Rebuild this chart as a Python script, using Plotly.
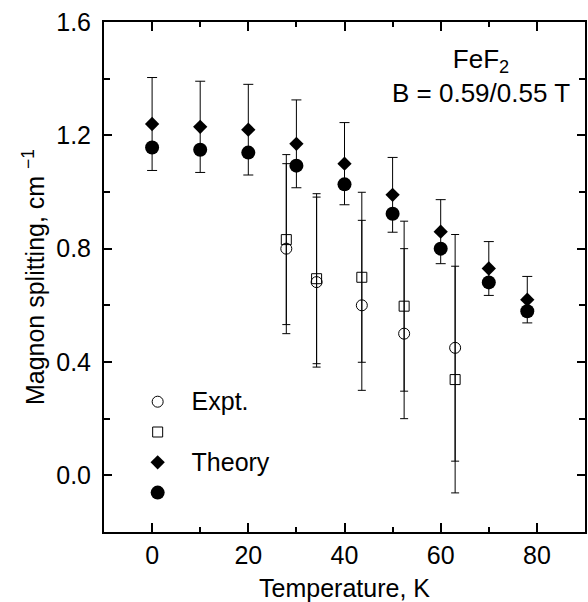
import plotly.graph_objects as go

# Theory (filled) points
T_theory = [0, 10, 20, 30, 40, 50, 60, 70, 78]
theory_diamond = [1.24, 1.23, 1.22, 1.17, 1.10, 0.99, 0.86, 0.73, 0.62]
theory_err = [0.164, 0.161, 0.160, 0.155, 0.145, 0.132, 0.113, 0.095, 0.082]
theory_circle = [1.157, 1.149, 1.139, 1.093, 1.027, 0.923, 0.800, 0.681, 0.579]

# Experimental (open) points
T_expt = [27.9, 34.2, 43.6, 52.4, 63.0]
expt_circle = [0.80, 0.682, 0.60, 0.50, 0.45]
expt_square = [0.832, 0.694, 0.699, 0.597, 0.338]
expt_err = [0.30, 0.30, 0.30, 0.30, 0.40]

legend_names = ["Expt.", "", "Theory", ""]

FONT = "Liberation Sans, Arial, Helvetica, sans-serif"


def lname(s):
    return '<span style="font-size:25px">\u00a0\u00a0' + (s if s else "\u00a0") + "</span>"


fig = go.Figure()

fig.add_trace(go.Scatter(
    x=T_expt, y=expt_circle, mode="markers", name=lname(legend_names[0]),
    marker=dict(symbol="circle-open", size=11, color="black", line=dict(width=1, color="black")),
    error_y=dict(type="data", array=expt_err, visible=True, color="black", thickness=1, width=4),
))
fig.add_trace(go.Scatter(
    x=T_expt, y=expt_square, mode="markers", name=lname(legend_names[1]),
    marker=dict(symbol="square-open", size=10, color="black", line=dict(width=1, color="black")),
    error_y=dict(type="data", array=expt_err, visible=True, color="black", thickness=1, width=4),
))
fig.add_trace(go.Scatter(
    x=T_theory, y=theory_diamond, mode="markers", name=lname(legend_names[2]),
    marker=dict(symbol="diamond", size=11, color="black"),
    error_y=dict(type="data", array=theory_err, visible=True, color="black", thickness=1, width=5),
))
fig.add_trace(go.Scatter(
    x=T_theory, y=theory_circle, mode="markers", name=lname(legend_names[3]),
    marker=dict(symbol="circle", size=14, color="black"),
))

fig.add_annotation(
    xref="paper", yref="paper", x=0.783, y=0.96, xanchor="center", yanchor="top",
    text="FeF<sub>2</sub><br>B = 0.59/0.55 T", showarrow=False,
    font=dict(family=FONT, size=26, color="black"), align="center",
)

axis_common = dict(
    showline=True, linecolor="black", linewidth=2, mirror="ticks",
    ticks="inside", tickcolor="black", tickwidth=1.5,
    showgrid=False, zeroline=False,
    tickfont=dict(family=FONT, size=25, color="black"),
)

fig.update_xaxes(
    range=[-10, 90], dtick=20, tick0=0, ticklen=9,
    minor=dict(dtick=10, ticks="inside", ticklen=5, tickcolor="black", tickwidth=1.5, showgrid=False),
    title=dict(text="Temperature, K", font=dict(family=FONT, size=25, color="black"), standoff=12),
    **axis_common,
)
fig.update_yaxes(
    range=[-0.2, 1.6], dtick=0.4, tick0=0, ticklen=8, tickformat=".1f",
    minor=dict(dtick=0.2, ticks="inside", ticklen=6, tickcolor="black", tickwidth=1.5, showgrid=False),
    title=dict(text="Magnon splitting, cm <sup>\u22121</sup>", font=dict(family=FONT, size=25, color="black"), standoff=4),
    ticklabelstandoff=6,
    **axis_common,
)

fig.update_layout(
    width=588, height=602,
    margin=dict(l=104, r=1, t=22, b=70),
    paper_bgcolor="white", plot_bgcolor="white",
    font=dict(family=FONT, size=25, color="black"),
    legend=dict(x=0.07, y=0.295, xanchor="left", yanchor="top", bgcolor="rgba(0,0,0,0)",
                font=dict(family=FONT, size=21, color="black"), tracegroupgap=0),
    showlegend=True,
)

fig.write_html("out.html", config={"displayModeBar": False},
               post_script="document.body.style.margin='0px';")
